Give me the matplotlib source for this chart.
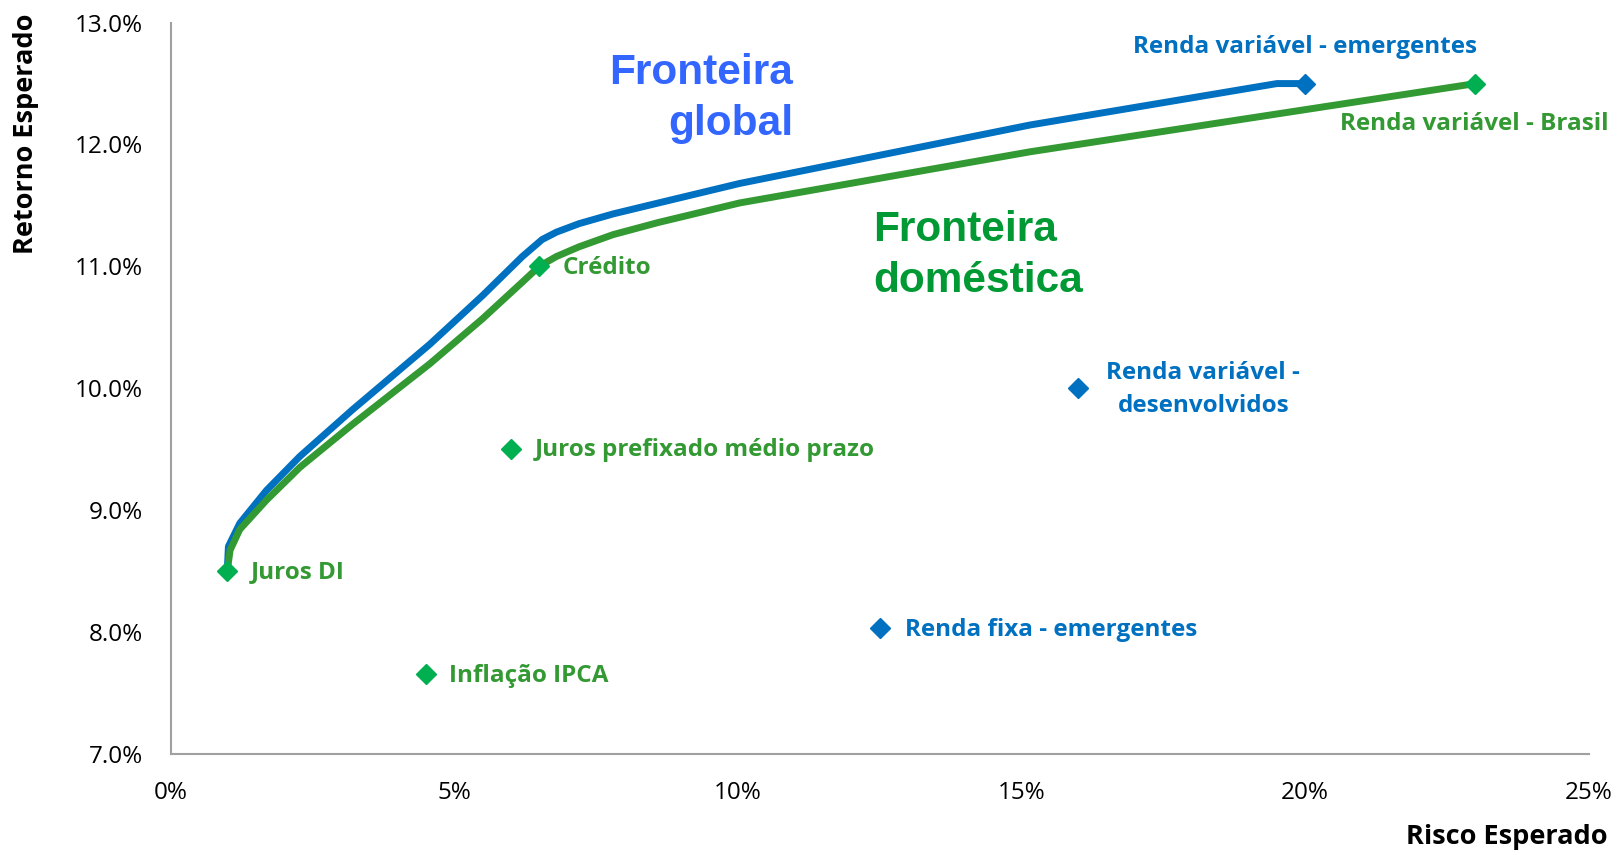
import matplotlib
matplotlib.use("Agg")
import matplotlib.pyplot as plt
from matplotlib.ticker import FuncFormatter, MultipleLocator

# ── Fronteiras eficientes (risco %, retorno %) ───────────────────────────────
global_risk = [1.0, 1.02, 1.22, 1.69, 2.28, 3.2, 4.57, 5.5, 6.2, 6.55, 6.8, 7.2,
               7.8, 8.6, 10.03, 15.15, 19.5, 20.0]
global_ret = [8.5, 8.7, 8.89, 9.16, 9.44, 9.82, 10.36, 10.76, 11.08, 11.22, 11.28,
              11.35, 11.43, 11.52, 11.68, 12.16, 12.5, 12.5]

dom_risk = [1.0, 1.05, 1.22, 1.69, 2.28, 3.2, 4.57, 5.5, 6.2, 6.5, 6.8, 7.2,
            7.8, 8.6, 10.03, 15.15, 23.0]
dom_ret = [8.5, 8.67, 8.84, 9.08, 9.35, 9.7, 10.2, 10.57, 10.87, 11.0, 11.08,
           11.16, 11.26, 11.36, 11.52, 11.94, 12.5]

# ── Classes de ativos ────────────────────────────────────────────────────────
dom_names = ["Juros DI", "Inflação IPCA", "Juros prefixado médio prazo",
             "Crédito", "Renda variável - Brasil"]
dom_x = [1.0, 4.5, 6.0, 6.5, 23.0]
dom_y = [8.5, 7.65, 9.5, 11.0, 12.5]

glob_names = ["Renda fixa - emergentes", "Renda variável -\ndesenvolvidos",
              "Renda variável - emergentes"]
glob_x = [12.5, 16.0, 20.0]
glob_y = [8.03, 10.0, 12.5]

BLUE_LINE = "#0070C0"
GREEN_LINE = "#339933"
GREEN_MK = "#00B050"
LABEL_FONT = "Open Sans"

fig = plt.figure(figsize=(16.21, 8.55), dpi=100)
ax = fig.add_axes([0.1052, 0.1186, 0.875, 0.8549])

ax.plot(global_risk, global_ret, color=BLUE_LINE, lw=5, solid_joinstyle="round",
        solid_capstyle="round", zorder=2)
ax.plot(dom_risk, dom_ret, color=GREEN_LINE, lw=5, solid_joinstyle="round",
        solid_capstyle="round", zorder=3)

ax.plot(glob_x, glob_y, ls="none", marker="D", ms=10, color=BLUE_LINE, zorder=4)
ax.plot(dom_x, dom_y, ls="none", marker="D", ms=10, color=GREEN_MK, zorder=5)

# rótulos dos ativos
lbl = dict(fontsize=17.5, fontweight="bold", family=LABEL_FONT, va="center",
           textcoords="offset points", annotation_clip=False)
for name, x, y in zip(dom_names[:4], dom_x[:4], dom_y[:4]):
    ax.annotate(name, (x, y), xytext=(17, -1), color=GREEN_LINE, ha="left", **lbl)
ax.annotate(dom_names[4], (dom_x[4], dom_y[4]), xytext=(96, -29),
            color=GREEN_LINE, ha="right", **lbl)

ax.annotate(glob_names[0], (glob_x[0], glob_y[0]), xytext=(18, -1),
            color=BLUE_LINE, ha="center" if False else "left", **lbl)
ax.annotate(glob_names[1], (glob_x[1], glob_y[1]), xytext=(90, -1),
            color=BLUE_LINE, ha="center", linespacing=1.45, **lbl)
ax.annotate(glob_names[2], (glob_x[2], glob_y[2]), xytext=(0, 26),
            color=BLUE_LINE, ha="center", **lbl)

# títulos das fronteiras
ax.text(10.97, 12.38, "Fronteira\nglobal", color="#3366FF", fontsize=30.5,
        fontweight="bold", family="Liberation Sans", ha="right", va="center",
        linespacing=1.36)
ax.text(12.39, 11.09, "Fronteira\ndoméstica", color="#009933", fontsize=30.5,
        fontweight="bold", family="Liberation Sans", ha="left", va="center",
        linespacing=1.36)

ax.set_xlim(0, 25)
ax.set_ylim(7, 13)
ax.xaxis.set_major_locator(MultipleLocator(5))
ax.yaxis.set_major_locator(MultipleLocator(1))
ax.xaxis.set_major_formatter(FuncFormatter(lambda v, p: f"{v:.0f}%"))
ax.yaxis.set_major_formatter(FuncFormatter(lambda v, p: f"{v:.1f}%"))
ax.tick_params(length=0, labelsize=17.5, pad=20)
for t in ax.get_xticklabels() + ax.get_yticklabels():
    t.set_family(LABEL_FONT)

for side in ["top", "right"]:
    ax.spines[side].set_visible(False)
for side in ["left", "bottom"]:
    ax.spines[side].set_color("#A0A0A0")
    ax.spines[side].set_linewidth(1.5)

fig.text(26 / 1621, 1 - 134 / 855, "Retorno Esperado", rotation=90, ha="center",
         va="center", fontsize=19.5, fontweight="bold", family=LABEL_FONT)
fig.text(1608 / 1621, 1 - 837 / 855, "Risco Esperado", ha="right", va="center",
         fontsize=19.5, fontweight="bold", family=LABEL_FONT)

fig.savefig("out.png", dpi=100)
plt.close(fig)
